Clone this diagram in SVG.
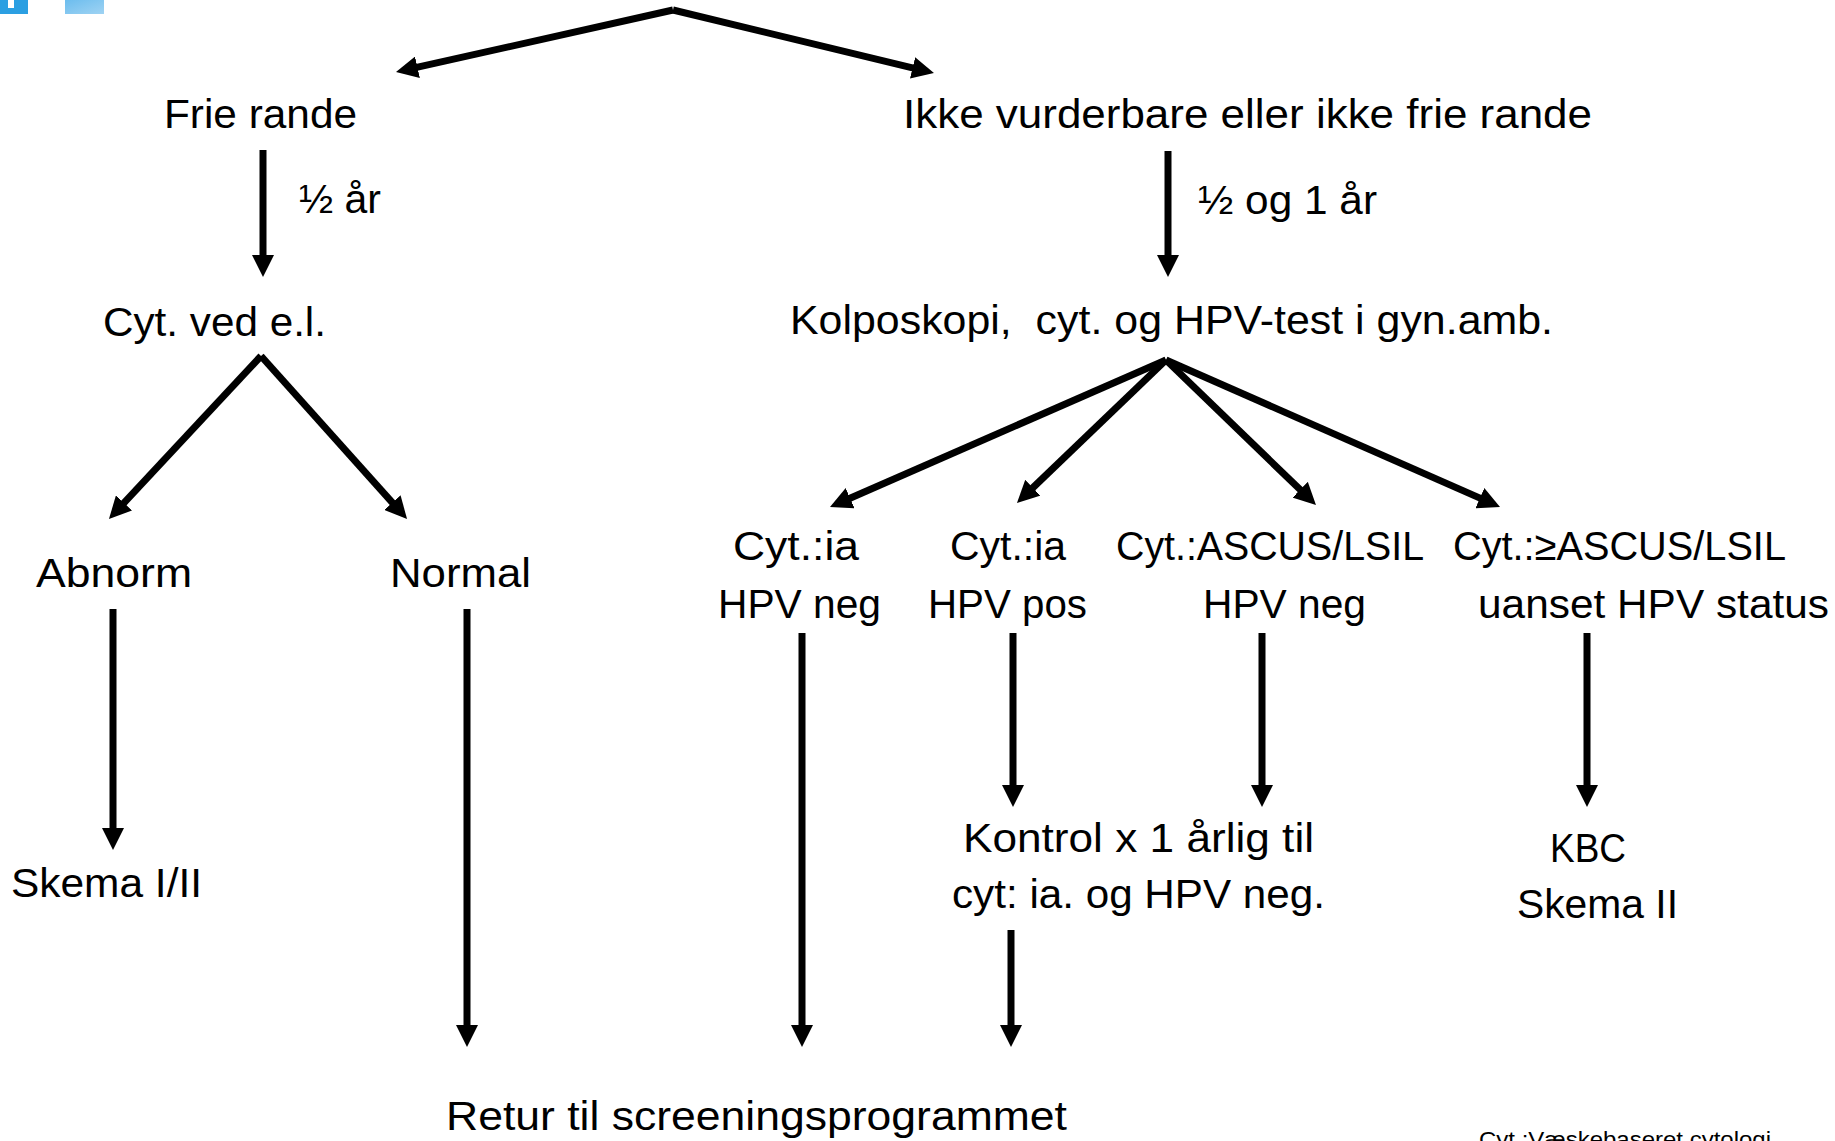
<svg xmlns="http://www.w3.org/2000/svg" width="1835" height="1141" viewBox="0 0 1835 1141">
<style>
  text { font-family: "Liberation Sans", Arial, sans-serif; font-size: 41px; fill: #000; }
  .small { font-size: 22px; }
  .con line { stroke: #000; stroke-width: 7; marker-end: url(#ah); }
</style>
<defs>
  <marker id="ah" markerUnits="userSpaceOnUse" markerWidth="24" markerHeight="22" viewBox="0 0 24 22" refX="2" refY="11" orient="auto">
    <path d="M0,0 L22,11 L0,22 z" fill="#000"/>
  </marker>
  <linearGradient id="lb" x1="0" y1="0" x2="1" y2="1">
    <stop offset="0" stop-color="#6cbdee"/>
    <stop offset="1" stop-color="#9fd3f3"/>
  </linearGradient>
</defs>
<rect width="1835" height="1141" fill="#fff"/>
<g id="logo">
  <rect x="0" y="0" width="28" height="14" fill="#2b9fe2"/>
  <rect x="8" y="0" width="6" height="8" fill="#fff"/>
  <rect x="65" y="0" width="39" height="14" fill="url(#lb)"/>
</g>
<g class="con" id="connectors">
  <line x1="673" y1="10" x2="415.5" y2="67.7"/>
  <line x1="673" y1="10" x2="914.5" y2="68.4"/>
  <line x1="263" y1="150" x2="263" y2="257"/>
  <line x1="1168" y1="151" x2="1168" y2="257"/>
  <line x1="261" y1="356" x2="122.6" y2="504.4"/>
  <line x1="261" y1="356" x2="393.7" y2="504.1"/>
  <line x1="1166" y1="360" x2="848.3" y2="499"/>
  <line x1="1166" y1="360" x2="1031.4" y2="489.1"/>
  <line x1="1166" y1="360" x2="1301.6" y2="491.1"/>
  <line x1="1166" y1="360" x2="1481.7" y2="498.9"/>
  <line x1="113" y1="609" x2="113" y2="830"/>
  <line x1="467" y1="609" x2="467" y2="1027"/>
  <line x1="802" y1="633" x2="802" y2="1027"/>
  <line x1="1013" y1="633" x2="1013" y2="787"/>
  <line x1="1262" y1="633" x2="1262" y2="787"/>
  <line x1="1587" y1="633" x2="1587" y2="787"/>
  <line x1="1011" y1="930" x2="1011" y2="1027"/>
</g>
<g id="n-frie"><text x="164" y="128" textLength="193" lengthAdjust="spacingAndGlyphs">Frie rande</text></g>
<g id="n-ikke"><text x="903" y="128" textLength="689" lengthAdjust="spacingAndGlyphs">Ikke vurderbare eller ikke frie rande</text></g>
<g id="l-halv"><text x="299" y="213" textLength="82" lengthAdjust="spacingAndGlyphs">½ år</text></g>
<g id="l-halv1"><text x="1198" y="214" textLength="179" lengthAdjust="spacingAndGlyphs">½ og 1 år</text></g>
<g id="n-cyt"><text x="103" y="336" textLength="223" lengthAdjust="spacingAndGlyphs">Cyt. ved e.l.</text></g>
<g id="n-kolpo"><text x="790" y="334" textLength="763" lengthAdjust="spacingAndGlyphs" xml:space="preserve">Kolposkopi,  cyt. og HPV-test i gyn.amb.</text></g>
<g id="n-abnorm"><text x="36" y="587" textLength="156" lengthAdjust="spacingAndGlyphs">Abnorm</text></g>
<g id="n-normal"><text x="390" y="587" textLength="141" lengthAdjust="spacingAndGlyphs">Normal</text></g>
<g id="n-ia-neg">
  <text x="733" y="560" textLength="126" lengthAdjust="spacingAndGlyphs">Cyt.:ia</text>
  <text x="718" y="618" textLength="163" lengthAdjust="spacingAndGlyphs">HPV neg</text>
</g>
<g id="n-ia-pos">
  <text x="950" y="560" textLength="116" lengthAdjust="spacingAndGlyphs">Cyt.:ia</text>
  <text x="928" y="618" textLength="159" lengthAdjust="spacingAndGlyphs">HPV pos</text>
</g>
<g id="n-ascus-neg">
  <text x="1116" y="560" textLength="308" lengthAdjust="spacingAndGlyphs">Cyt.:ASCUS/LSIL</text>
  <text x="1203" y="618" textLength="163" lengthAdjust="spacingAndGlyphs">HPV neg</text>
</g>
<g id="n-ascus-any">
  <text x="1453" y="560" textLength="333" lengthAdjust="spacingAndGlyphs">Cyt.:≥ASCUS/LSIL</text>
  <text x="1478" y="618" textLength="351" lengthAdjust="spacingAndGlyphs">uanset HPV status</text>
</g>
<g id="n-skema12"><text x="11" y="897" textLength="191" lengthAdjust="spacingAndGlyphs">Skema I/II</text></g>
<g id="n-kontrol">
  <text x="963" y="852" textLength="351" lengthAdjust="spacingAndGlyphs">Kontrol x 1 årlig til</text>
  <text x="952" y="908" textLength="373" lengthAdjust="spacingAndGlyphs">cyt: ia. og HPV neg.</text>
</g>
<g id="n-kbc">
  <text x="1550" y="862" textLength="76" lengthAdjust="spacingAndGlyphs">KBC</text>
  <text x="1517" y="918" textLength="161" lengthAdjust="spacingAndGlyphs">Skema II</text>
</g>
<g id="n-retur"><text x="446" y="1130" textLength="621" lengthAdjust="spacingAndGlyphs">Retur til screeningsprogrammet</text></g>
<g id="note"><text class="small" x="1479" y="1147" textLength="292" lengthAdjust="spacingAndGlyphs">Cyt.:Væskebaseret cytologi</text></g>
</svg>
